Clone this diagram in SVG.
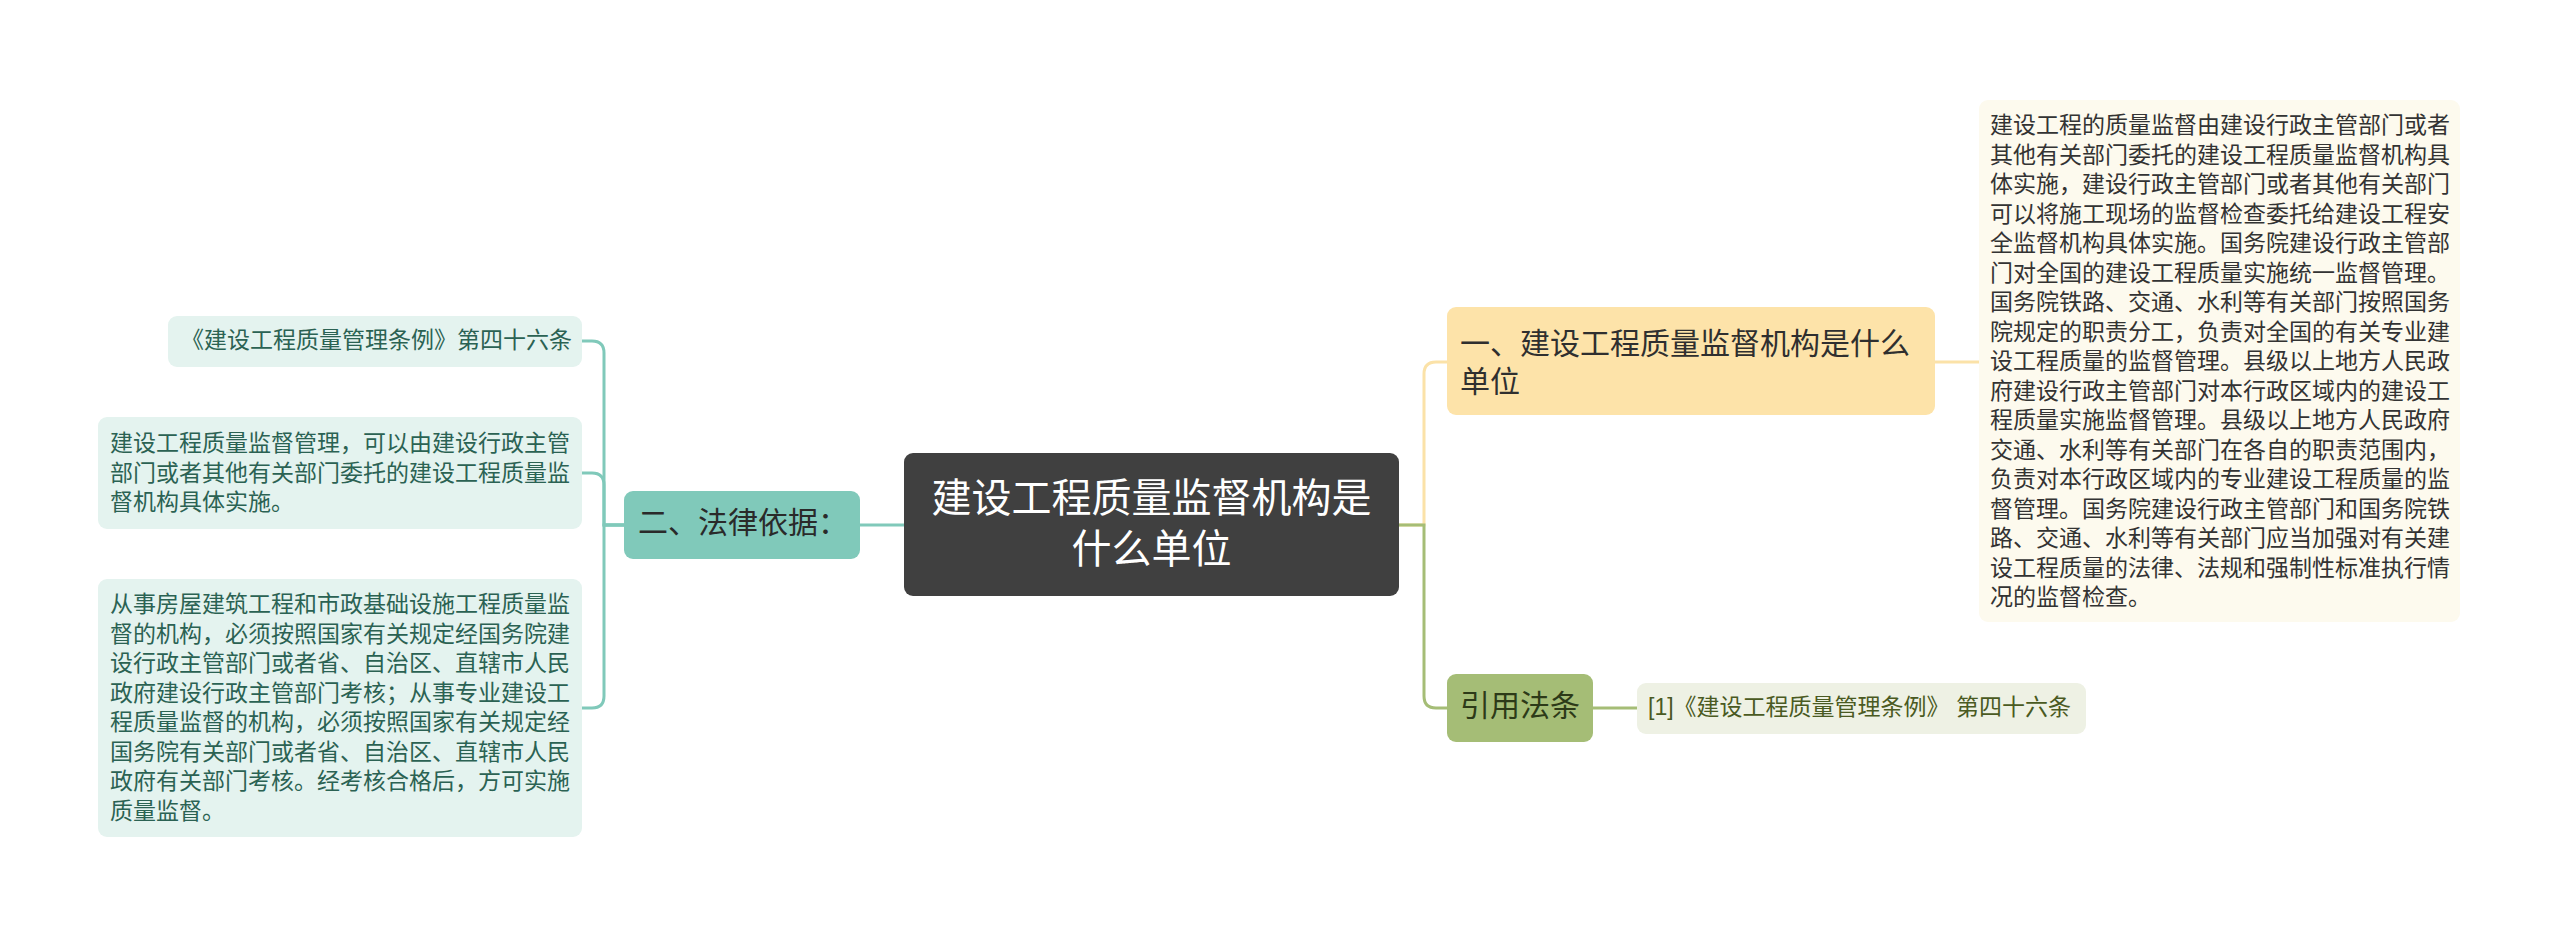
<svg xmlns="http://www.w3.org/2000/svg" width="2560" height="937" viewBox="0 0 2560 937">
<style>
text{font-family:"Liberation Sans","Noto Sans CJK SC",sans-serif;dominant-baseline:central}
.c{fill:none;stroke-width:3;stroke-linecap:round}
.teal{stroke:#80c9ba}
.yel{stroke:#fbe2a8}
.grn{stroke:#a5bd76}
.leafL{fill:#e4f3ef}
.tL{font-size:23px;fill:#2b6253}
.tR{font-size:23px;fill:#333333}
</style>
<rect width="2560" height="937" fill="#ffffff"/>
<g id="connectors">
<path class="c teal" d="M904,525 H860"/>
<path class="c teal" d="M624,525 H604 V353 Q604,341 592,341 H582"/>
<path class="c teal" d="M624,525 H604 V485 Q604,473 592,473 H582"/>
<path class="c teal" d="M624,525 H604 V696 Q604,708 592,708 H582"/>
<path class="c yel" d="M1399,525 H1424 V374 Q1424,362 1436,362 H1447"/>
<path class="c grn" d="M1399,525 H1424 V696 Q1424,708 1436,708 H1447"/>
<path class="c yel" d="M1935,362 H1979"/>
<path class="c grn" d="M1593,708 H1637"/>
</g>
<g id="central">
<rect x="904" y="453" width="495" height="143" rx="9" fill="#404040"/>
<text font-size="40" fill="#ffffff" text-anchor="middle"><tspan x="1151.5" y="497.5">建设工程质量监督机构是</tspan><tspan x="1151.5" y="548.5">什么单位</tspan></text>
</g>
<g id="node-yi">
<rect x="1447" y="307" width="488" height="108" rx="9" fill="#fde3a9"/>
<text font-size="30" fill="#2f2f2f"><tspan x="1460" y="342.5">一、建设工程质量监督机构是什么</tspan><tspan x="1460" y="380.5">单位</tspan></text>
</g>
<g id="leaf-yi">
<rect x="1979" y="100" width="481" height="522" rx="9" fill="#fdfaee"/>
<text class="tR"><tspan x="1990" y="125">建设工程的质量监督由建设行政主管部门或者</tspan><tspan x="1990" y="154.5">其他有关部门委托的建设工程质量监督机构具</tspan><tspan x="1990" y="184">体实施，建设行政主管部门或者其他有关部门</tspan><tspan x="1990" y="213.5">可以将施工现场的监督检查委托给建设工程安</tspan><tspan x="1990" y="243">全监督机构具体实施。国务院建设行政主管部</tspan><tspan x="1990" y="272.5">门对全国的建设工程质量实施统一监督管理。</tspan><tspan x="1990" y="302">国务院铁路、交通、水利等有关部门按照国务</tspan><tspan x="1990" y="331.5">院规定的职责分工，负责对全国的有关专业建</tspan><tspan x="1990" y="361">设工程质量的监督管理。县级以上地方人民政</tspan><tspan x="1990" y="390.5">府建设行政主管部门对本行政区域内的建设工</tspan><tspan x="1990" y="420">程质量实施监督管理。县级以上地方人民政府</tspan><tspan x="1990" y="449.5">交通、水利等有关部门在各自的职责范围内，</tspan><tspan x="1990" y="479">负责对本行政区域内的专业建设工程质量的监</tspan><tspan x="1990" y="508.5">督管理。国务院建设行政主管部门和国务院铁</tspan><tspan x="1990" y="538">路、交通、水利等有关部门应当加强对有关建</tspan><tspan x="1990" y="567.5">设工程质量的法律、法规和强制性标准执行情</tspan><tspan x="1990" y="597">况的监督检查。</tspan></text>
</g>
<g id="node-cite">
<rect x="1447" y="674" width="146" height="68" rx="9" fill="#a5bd76"/>
<text x="1520" y="705.5" font-size="30" fill="#2d3a18" text-anchor="middle">引用法条</text>
</g>
<g id="leaf-cite">
<rect x="1637" y="683" width="449" height="51" rx="9" fill="#eef1e4"/>
<text x="1648" y="707" font-size="23" fill="#4a5a22">[1]《建设工程质量管理条例》 第四十六条</text>
</g>
<g id="node-er">
<rect x="624" y="491" width="236" height="68" rx="9" fill="#80c9ba"/>
<text x="638" y="522.5" font-size="30" fill="#2a2a2a">二、法律依据：</text>
</g>
<g id="leaf-er-1">
<rect class="leafL" x="168" y="316" width="414" height="51" rx="9"/>
<text class="tL" x="572" y="340" text-anchor="end">《建设工程质量管理条例》第四十六条</text>
</g>
<g id="leaf-er-2">
<rect class="leafL" x="98" y="417" width="484" height="112" rx="9"/>
<text class="tL"><tspan x="110" y="443">建设工程质量监督管理，可以由建设行政主管</tspan><tspan x="110" y="472.5">部门或者其他有关部门委托的建设工程质量监</tspan><tspan x="110" y="502">督机构具体实施。</tspan></text>
</g>
<g id="leaf-er-3">
<rect class="leafL" x="98" y="579" width="484" height="258" rx="9"/>
<text class="tL"><tspan x="110" y="604">从事房屋建筑工程和市政基础设施工程质量监</tspan><tspan x="110" y="633.5">督的机构，必须按照国家有关规定经国务院建</tspan><tspan x="110" y="663">设行政主管部门或者省、自治区、直辖市人民</tspan><tspan x="110" y="692.5">政府建设行政主管部门考核；从事专业建设工</tspan><tspan x="110" y="722">程质量监督的机构，必须按照国家有关规定经</tspan><tspan x="110" y="751.5">国务院有关部门或者省、自治区、直辖市人民</tspan><tspan x="110" y="781">政府有关部门考核。经考核合格后，方可实施</tspan><tspan x="110" y="810.5">质量监督。</tspan></text>
</g>
</svg>
